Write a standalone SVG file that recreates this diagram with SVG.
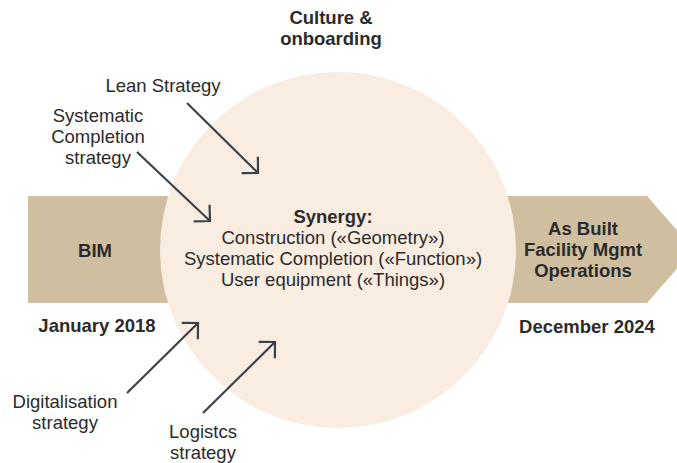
<svg xmlns="http://www.w3.org/2000/svg" width="677" height="463" viewBox="0 0 677 463">
<style>
text{font-family:"Liberation Sans",Arial,sans-serif;font-size:18.5px;fill:#2b2b2b;text-anchor:middle}
.b{font-weight:bold}
.band{fill:#cfbea0}
.arr{stroke:#3b4149;stroke-width:2.2;fill:none;marker-end:url(#h)}
</style>
<defs>
<marker id="h" markerUnits="userSpaceOnUse" viewBox="-14 -14 16 28" markerWidth="16" markerHeight="28" refX="0" refY="0" orient="auto">
<path d="M-11.5,-11.5 L0,0 L-11.5,11.5" fill="none" stroke="#3b4149" stroke-width="2.2"/>
</marker>
</defs>
<rect width="677" height="463" fill="#ffffff"/>
<g id="bim">
<rect class="band" x="28" y="196" width="200" height="107"/>
</g>
<g id="asbuilt">
<polygon class="band" points="470,196 647,196 694,249.5 647,303 470,303"/>
</g>
<g id="synergy">
<circle cx="338" cy="250" r="178" fill="#f9ece0"/>
<text class="b" x="333" y="223">Synergy:</text>
<text x="333" y="244">Construction («Geometry»)</text>
<text x="333" y="265">Systematic Completion («Function»)</text>
<text x="333" y="286">User equipment («Things»)</text>
</g>
<g id="bim-label">
<text class="b" x="95" y="257">BIM</text>
<text class="b" x="97" y="332">January 2018</text>
</g>
<g id="asbuilt-label">
<text class="b" x="583" y="235">As Built</text>
<text class="b" x="583" y="256">Facility Mgmt</text>
<text class="b" x="583" y="277">Operations</text>
<text class="b" x="587" y="333">December 2024</text>
</g>
<g id="culture">
<text class="b" x="331" y="24">Culture &amp;</text>
<text class="b" x="331" y="45">onboarding</text>
</g>
<g id="lean"><text x="163" y="92">Lean Strategy</text></g>
<g id="systematic">
<text x="98" y="122">Systematic</text>
<text x="98" y="143">Completion</text>
<text x="98" y="164">strategy</text>
</g>
<g id="digital">
<text x="65" y="408">Digitalisation</text>
<text x="65" y="429">strategy</text>
</g>
<g id="logistics">
<text x="203" y="438">Logistcs</text>
<text x="203" y="459">strategy</text>
</g>
<g id="connectors">
<line class="arr" x1="187" y1="103" x2="258" y2="173"/>
<line class="arr" x1="137" y1="152" x2="210" y2="221"/>
<line class="arr" x1="127" y1="393" x2="198" y2="323"/>
<line class="arr" x1="203" y1="413" x2="275" y2="342"/>
</g>
</svg>
